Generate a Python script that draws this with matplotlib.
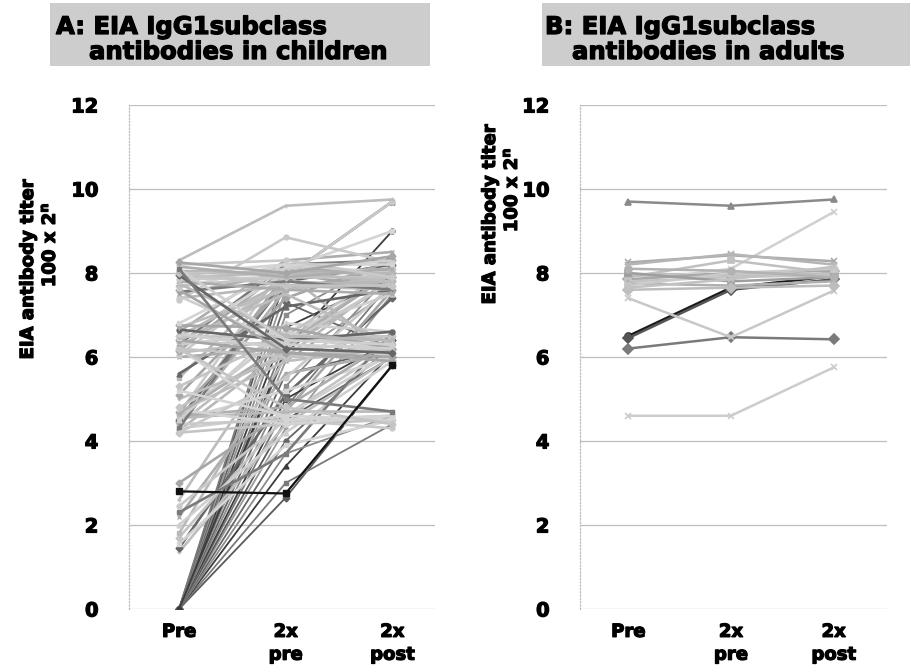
import matplotlib
matplotlib.use("Agg")
import matplotlib.pyplot as plt
from matplotlib.patches import Rectangle
import matplotlib.patheffects as pe

# categories on the x axis
categories = ["Pre", "2x\npre", "2x\npost"]

# children: titer at Pre, 2x pre, 2x post (one entry per child)
kids_pre = [
    0, 0, 0, 0, 0, 0, 0, 0, 0, 0, 0, 0, 0, 0, 0, 0, 0, 0, 0, 0, 0,
    1.35, 1.45, 1.55, 1.7, 1.8, 2.0, 2.2, 2.45, 2.6, 3.0, 2.3,
    4.2, 4.25, 4.3, 4.35, 4.4, 4.4, 4.45, 4.5, 4.5, 4.55, 4.6, 4.6, 4.65, 4.7, 4.7,
    4.75, 4.8, 4.3, 4.5, 4.65, 4.2,
    5.0, 5.1, 5.2, 5.3, 5.5, 5.6,
    6.0, 6.05, 6.1, 6.15, 6.2, 6.2, 6.25, 6.3, 6.3, 6.35, 6.4, 6.4, 6.45, 6.5, 6.5,
    6.55, 6.6, 6.65, 6.7, 6.75, 6.8, 6.2,
    7.4, 7.45, 7.5, 7.35, 7.55, 7.6, 7.65, 7.7, 7.75, 7.8, 7.8, 7.85, 7.9, 7.95,
    8.0, 8.0, 8.05, 8.1, 8.15, 8.2, 8.3, 8.25, 8.1,
]
kids_2xpre = [
    2.65, 3.0, 3.4, 3.7, 4.0, 4.3, 4.5, 4.8, 5.0, 5.3, 5.6, 5.9, 6.1, 6.4, 6.7, 7.0, 7.3, 7.6, 7.9, 8.1, 6.2,
    4.4, 5.1, 3.9, 4.6, 6.0, 4.2, 5.6, 4.5, 6.4, 4.7, 3.7,
    4.4, 6.2, 4.6, 7.6, 4.5, 6.4, 8.0, 5.2, 7.8, 4.7, 6.6, 4.8, 8.2, 5.9, 7.4,
    4.4, 6.1, 7.9, 6.8, 6.3, 5.5,
    6.0, 7.7, 4.6, 6.5, 8.0, 7.2,
    6.2, 7.9, 6.4, 8.1, 4.5, 6.0, 7.7, 6.6, 8.2, 6.3, 7.5, 6.1, 8.0, 6.5, 7.8,
    6.2, 8.3, 6.4, 7.6, 6.7, 8.1, 4.8,
    7.7, 6.3, 8.0, 8.85, 7.8, 6.1, 8.2, 7.9, 6.5, 8.1, 7.6, 7.9, 8.0, 6.2,
    8.2, 7.7, 8.0, 6.4, 7.9, 8.3, 9.6, 8.0, 5.0,
]
kids_2xpost = [
    5.8, 4.4, 6.1, 4.6, 6.3, 7.5, 6.0, 7.8, 6.4, 8.0, 6.2, 7.6, 8.2, 6.5, 7.9, 8.4, 6.2, 8.1, 9.7, 7.7, 9.0,
    6.0, 7.4, 4.5, 6.3, 7.9, 5.9, 6.1, 4.6, 8.0, 7.6, 6.6,
    4.5, 7.8, 6.1, 8.0, 4.3, 6.3, 7.6, 6.0, 8.2, 4.7, 7.5, 6.4, 7.9, 6.2, 8.3,
    4.6, 5.9, 9.7, 6.6, 8.0, 7.7,
    6.3, 7.8, 4.5, 8.1, 6.0, 7.6,
    6.1, 7.9, 6.4, 8.0, 4.6, 6.2, 7.6, 6.0, 8.3, 7.8, 6.3, 5.9, 8.1, 6.5, 7.7,
    6.3, 8.5, 6.6, 7.9, 6.2, 9.0, 4.4,
    7.8, 6.2, 8.1, 8.25, 7.6, 6.0, 8.0, 7.9, 6.4, 8.3, 7.5, 9.7, 7.8, 6.1,
    8.2, 7.7, 8.0, 6.3, 8.1, 7.9, 9.75, 8.4, 4.7,
]

# the one child drawn in black (flat between Pre and 2x pre)
black_kid = [2.8, 2.75, 5.8]

# adults
adult_pre = [9.7, 4.6, 6.5, 6.45, 6.2, 7.4, 7.8, 8.25, 8.2, 7.9, 7.95, 7.85, 7.8, 7.75, 7.7, 8.0, 7.6, 7.65, 8.1]
adult_2xpre = [9.6, 4.6, 7.65, 7.6, 6.47, 6.47, 8.1, 8.42, 8.45, 8.3, 7.95, 8.0, 7.9, 7.7, 8.0, 7.8, 7.65, 7.85, 8.05]
adult_2xpost = [9.75, 5.75, 7.93, 7.85, 6.42, 7.58, 9.45, 8.28, 8.2, 8.0, 7.95, 8.05, 7.95, 7.8, 8.1, 7.9, 7.7, 8.15, 7.9]

light_greys = ["#c4c4c4", "#b8b8b8", "#cfcfcf", "#adadad", "#c9c9c9", "#bdbdbd", "#a6a6a6", "#d4d4d4"]
dark_greys = ["#5a5a5a", "#7a7a7a", "#3c3c3c", "#8c8c8c", "#666666", "#999999"]
marker_cycle = ["D", "s", "^", "x", "o", "+", "D", "s"]

heavy = [pe.withStroke(linewidth=0.9, foreground="black")]
bold = {"fontweight": "bold", "family": "DejaVu Sans"}

fig = plt.figure(figsize=(9.12, 6.72), dpi=100)
ax_a = fig.add_axes([0.1414, 0.0938, 0.3355, 0.75])
ax_b = fig.add_axes([0.636, 0.0938, 0.3366, 0.75])


def style_axes(ax, x_right):
    ax.set_ylim(0, 12)
    ax.set_xlim(-0.47, x_right)
    ax.set_yticks([0, 2, 4, 6, 8, 10, 12])
    ax.set_xticks([0, 1, 2])
    ax.set_xticklabels(categories, fontsize=13, linespacing=1.35, **bold)
    for lbl in ax.get_yticklabels():
        lbl.set_fontsize(14)
        lbl.set_fontweight("bold")
    for lbl in ax.get_yticklabels() + ax.get_xticklabels():
        lbl.set_path_effects(heavy)
    ax.tick_params(length=0, pad=22)
    ax.tick_params(axis="x", pad=10)
    ax.grid(axis="y", color="#bdbdbd", linewidth=0.9)
    ax.set_axisbelow(True)
    for side in ["top", "right", "bottom"]:
        ax.spines[side].set_visible(False)
    ax.spines["left"].set_color("#bdbdbd")
    ax.spines["left"].set_linestyle(":")
    ax.spines["left"].set_linewidth(0.9)


style_axes(ax_a, 2.4)
style_axes(ax_b, 2.52)

x = [0, 1, 2]

# children: dark lines (from zero) first, light ones over them
for i in range(len(kids_pre)):
    if kids_pre[i] < 1:
        col = dark_greys[i % len(dark_greys)]
        ax_a.plot(x, [kids_pre[i], kids_2xpre[i], kids_2xpost[i]], color=col, lw=1.3,
                  marker=marker_cycle[i % len(marker_cycle)], ms=3.5, mew=1, zorder=2)
for i in range(len(kids_pre)):
    if kids_pre[i] >= 1:
        if i % 9 == 4:
            col = dark_greys[i % len(dark_greys)]
        else:
            col = light_greys[i % len(light_greys)]
        ax_a.plot(x, [kids_pre[i], kids_2xpre[i], kids_2xpost[i]], color=col, lw=1.9,
                  marker=marker_cycle[i % len(marker_cycle)], ms=3.5, mew=1, zorder=3)
ax_a.plot(x, black_kid, color="#111111", lw=1.6, marker="s", ms=5, zorder=4)

# adults
adult_cols = ["#8a8a8a", "#cccccc", "#1a1a1a", "#555555", "#7a7a7a", "#c8c8c8", "#d0d0d0",
              "#aaaaaa", "#b5b5b5", "#c0c0c0", "#bbbbbb", "#a8a8a8", "#c4c4c4", "#b0b0b0",
              "#cacaca", "#9e9e9e", "#bdbdbd", "#c2c2c2", "#b2b2b2"]
adult_marks = ["^", "x", "o", "D", "D", "x", "x", "x", "x", "s", "o", "D", "s", "^", "o", "s", "D", "x", "o"]
for i in range(len(adult_pre)):
    ax_b.plot(x, [adult_pre[i], adult_2xpre[i], adult_2xpost[i]], color=adult_cols[i], lw=1.8,
              marker=adult_marks[i], ms=5, mew=1.2, zorder=3)

# title boxes
fig.patches.append(Rectangle((50 / 912, 1 - 66 / 672), 380 / 912, 63 / 672, transform=fig.transFigure,
                             facecolor="#cdcdcd", edgecolor="none"))
fig.patches.append(Rectangle((542 / 912, 1 - 66 / 672), 368 / 912, 63 / 672, transform=fig.transFigure,
                             facecolor="#cdcdcd", edgecolor="none"))
titles = [
    (56, 34, "A: EIA IgG1subclass"),
    (89, 59, "antibodies in children"),
    (545, 34, "B: EIA IgG1subclass"),
    (572, 59, "antibodies in adults"),
]
for tx, ty, txt in titles:
    fig.text(tx / 912, 1 - ty / 672, txt, fontsize=17.5, va="baseline", ha="left",
             path_effects=heavy, **bold)

# y axis titles
for xl, yc in [(28, 270), (490, 215)]:
    fig.text(xl / 912, 1 - yc / 672, "EIA antibody titer", rotation=90, fontsize=13,
             ha="center", va="center", path_effects=heavy, **bold)
    fig.text((xl + 22) / 912, 1 - (yc - 25) / 672, r"100 x 2$^{\mathbf{n}}$", rotation=90, fontsize=13,
             ha="center", va="center", path_effects=heavy, **bold)

fig.savefig("out.png", dpi=100)
